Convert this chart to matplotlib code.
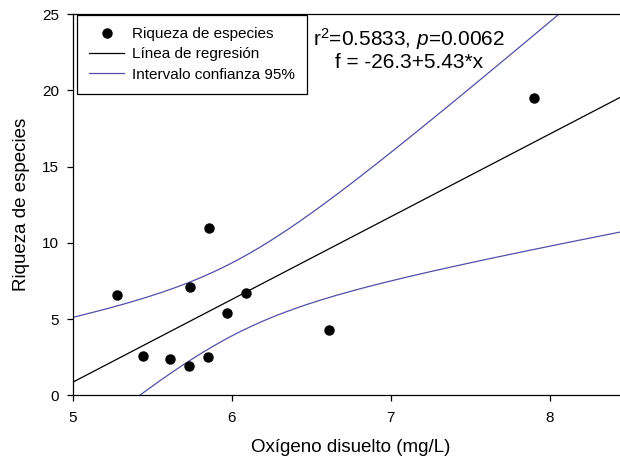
import numpy as np
import matplotlib
matplotlib.use("Agg")
import matplotlib.pyplot as plt

plt.rcParams['font.family'] = 'Liberation Sans'
plt.rcParams['mathtext.fontset'] = 'custom'
plt.rcParams['mathtext.rm'] = 'Liberation Sans'
plt.rcParams['mathtext.it'] = 'Liberation Sans:italic'

# data
oxigeno = [5.28, 5.44, 5.61, 5.73, 5.74, 5.85, 5.86, 5.97, 6.09, 6.61, 7.90]
riqueza = [6.6, 2.6, 2.4, 1.9, 7.1, 2.5, 11.0, 5.4, 6.7, 4.3, 19.5]
intercept, slope = -26.3, 5.43
t_crit = 2.262  # t(0.975, df=9)

x = np.array(oxigeno)
y = np.array(riqueza)
n = len(x)
resid = y - (intercept + slope * x)
s = np.sqrt(np.sum(resid ** 2) / (n - 2))
sxx = np.sum((x - x.mean()) ** 2)

xs = np.linspace(5, 8.5, 300)
fit = intercept + slope * xs
half = t_crit * s * np.sqrt(1 / n + (xs - x.mean()) ** 2 / sxx)

fig = plt.figure(figsize=(6.2, 4.63), dpi=100)
ax = fig.add_axes([72.5 / 620, 1 - 395.3 / 463, (629.6 - 72.5) / 620, (395.3 - 14) / 463])

ax.plot(x, y, 'o', color='black', markersize=6.5, label='Riqueza de especies', zorder=3)
ax.plot(xs, fit, color='black', lw=0.9, label='Línea de regresión')
ax.plot(xs, fit + half, color='#5050a8', lw=0.9, label='Intervalo confianza 95%')
ax.plot(xs, fit - half, color='#5050a8', lw=0.9)

ax.set_xlim(5, 8.5)
ax.set_ylim(0, 25)
ax.set_xticks([5, 6, 7, 8])
ax.set_yticks([0, 5, 10, 15, 20, 25])
ax.tick_params(direction='out', length=4, width=0.9, labelsize=11)
ax.tick_params(axis='x', pad=7.5)
ax.tick_params(axis='y', pad=5.5)
for sp in ax.spines.values():
    sp.set_linewidth(0.9)

ax.set_xlabel('Oxígeno disuelto (mg/L)', fontsize=13.5, labelpad=10)
ax.set_ylabel('Riqueza de especies', fontsize=13.5, labelpad=9)

leg = ax.legend(loc='upper left', bbox_to_anchor=(0.008, 0.997), fontsize=11,
                fancybox=False, edgecolor='black', framealpha=1, borderaxespad=0,
                handlelength=2.3, handletextpad=0.5, borderpad=0.8, labelspacing=0.4)
leg.get_frame().set_linewidth(0.9)

ax.text(0.432, 0.935, r'r$^2$=0.5833, $p$=0.0062', transform=ax.transAxes,
        fontsize=15, ha='left', va='center')
ax.text(0.605, 0.872, 'f = -26.3+5.43*x', transform=ax.transAxes,
        fontsize=15, ha='center', va='center')

fig.savefig('out.png', dpi=100)
